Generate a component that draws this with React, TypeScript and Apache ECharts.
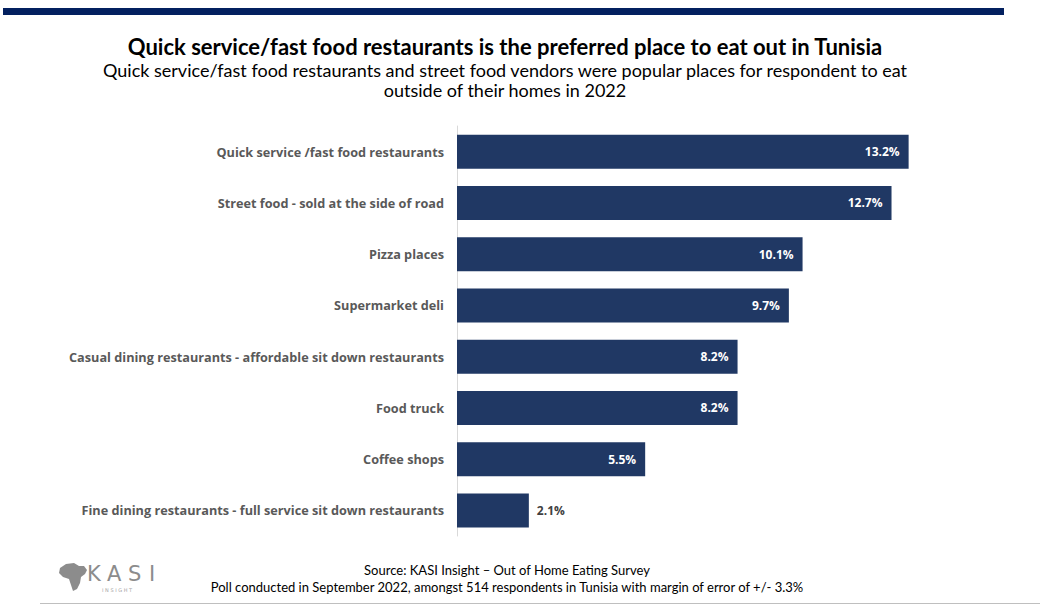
import React, { useEffect, useRef } from "react";
import * as echarts from "echarts";

const categories = [
  "Quick service /fast food restaurants",
  "Street food - sold at the side of road",
  "Pizza places",
  "Supermarket deli",
  "Casual dining restaurants - affordable sit down restaurants",
  "Food truck",
  "Coffee shops",
  "Fine dining restaurants - full service sit down restaurants",
];
const values = [13.2, 12.7, 10.1, 9.7, 8.2, 8.2, 5.5, 2.1];
const titleText = "Quick service/fast food restaurants is the preferred place to eat out in Tunisia";
const subtitleLines = [
  "Quick service/fast food restaurants and street food vendors were popular places for respondent to eat",
  "outside of their homes in 2022",
];
const footerLines = [
  "Source: KASI Insight \u2013 Out of Home Eating Survey",
  "Poll conducted in September 2022, amongst 514 respondents in Tunisia with margin of error of +/- 3.3%",
];
const logoLetters = ["K", "A", "S", "I"];

export default function App() {
  const ref = useRef<HTMLDivElement>(null);
  useEffect(() => {
    if (!ref.current) return;
    const chart = echarts.init(ref.current, null, { renderer: "svg" });
    const cats = [...categories].reverse();
    const vals = [...values].reverse();
    const data = vals.map((v) => ({
      value: v,
      label:
        v < 4
          ? { position: "right", color: "#404040", distance: 8 }
          : { position: "insideRight", color: "#ffffff", distance: 9 },
    }));
    const letterX = [87, 107, 128, 149];
    chart.setOption({
      animation: false,
      backgroundColor: "#ffffff",
      grid: { left: 457, top: 126, width: 479, height: 410, containLabel: false },
      xAxis: {
        type: "value",
        min: 0,
        max: 14,
        show: false,
      },
      yAxis: {
        type: "category",
        data: cats,
        axisLine: { show: true, lineStyle: { color: "#d9d9d9", width: 1 } },
        axisTick: { show: false },
        axisLabel: {
          color: "#595959",
          fontFamily: "'Open Sans', Lato, sans-serif",
          fontWeight: "bold",
          fontSize: 12.7,
          margin: 13,
        },
      },
      series: [
        {
          type: "bar",
          data,
          barWidth: 34,
          itemStyle: { color: "#203864" },
          label: {
            show: true,
            formatter: (p: any) => p.value.toFixed(1) + "%",
            fontFamily: "'Open Sans', Lato, sans-serif",
            fontWeight: "bold",
            fontSize: 12,
          },
        },
      ],
      graphic: [
        { type: "rect", shape: { x: 3, y: 8, width: 1001, height: 7 }, style: { fill: "#03205f" } },
        {
          type: "text",
          x: 505,
          y: 46,
          style: {
            text: titleText,
            fill: "#000000",
            font: "bold 22px Lato, sans-serif",
            align: "center",
            verticalAlign: "middle",
          },
        },
        ...subtitleLines.map((t, i) => ({
          type: "text",
          x: 505,
          y: 70 + i * 20,
          style: {
            text: t,
            fill: "#000000",
            font: "18px Lato, sans-serif",
            align: "center",
            verticalAlign: "middle",
          },
        })),
        ...footerLines.map((t, i) => ({
          type: "text",
          x: 507,
          y: 570 + i * 17,
          style: {
            text: t,
            fill: "#000000",
            font: "13px Lato, sans-serif",
            align: "center",
            verticalAlign: "middle",
          },
        })),
        {
          type: "polygon",
          shape: {
            points: [
              [60, 568], [66, 564], [74, 563], [79, 566], [84, 566], [87, 570], [85, 574],
              [81, 577], [80, 583], [77, 589], [73, 591], [71, 585], [69, 579], [63, 577], [59, 573],
            ],
          },
          style: { fill: "#8c8c8c" },
        },
        ...logoLetters.map((l, i) => ({
          type: "text",
          x: letterX[i],
          y: 574,
          style: {
            text: l,
            fill: "#8c8c8c",
            font: "21px 'DejaVu Sans', sans-serif",
            verticalAlign: "middle",
          },
        })),
        {
          type: "text",
          x: 102,
          y: 590,
          style: {
            text: "I N S I G H T",
            fill: "#a6a6a6",
            font: "5px 'DejaVu Sans', sans-serif",
            verticalAlign: "middle",
          },
        },
        { type: "rect", shape: { x: 40, y: 603, width: 1000, height: 1 }, style: { fill: "#bfbfbf" } },
      ],
    });
    return () => chart.dispose();
  }, []);
  return <div ref={ref} style={{ width: 1042, height: 613, position: "absolute", left: 0, top: 0 }} />;
}
